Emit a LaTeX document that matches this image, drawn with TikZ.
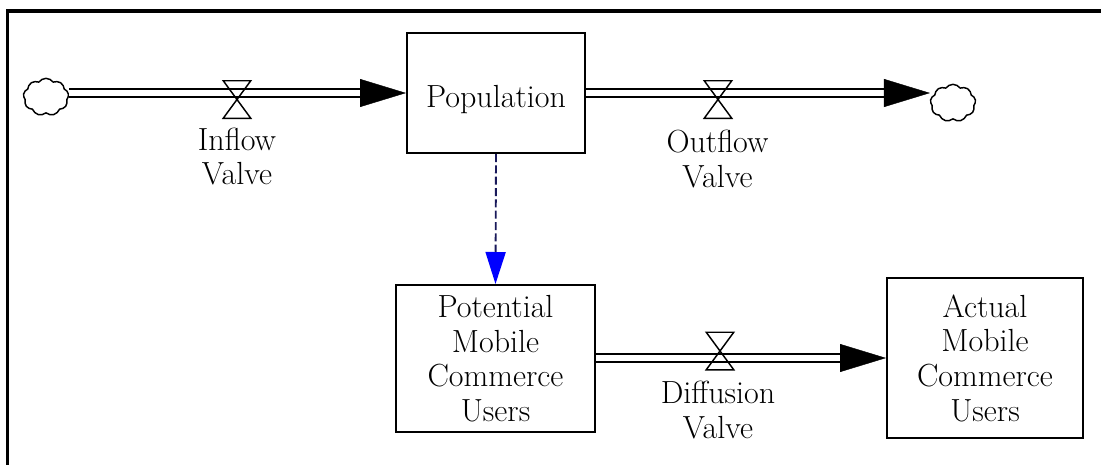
\documentclass[tikz,border=0pt]{standalone}
\usetikzlibrary{arrows.meta,shapes.symbols}
\definecolor{linkblue}{RGB}{0,0,255}
\definecolor{linkdash}{RGB}{25,25,90}
\begin{document}
\begin{tikzpicture}[x=0.75pt,y=-0.75pt,
  lbl/.style={font=\rmfamily\fontsize{24}{26}\selectfont, align=center, inner sep=0pt},
  stock/.style={lbl, draw, line width=1.5pt},
  pipe/.style={draw=black, line width=1.7pt, double=white, double distance=4.3pt, shorten >=30pt},
  flowhead/.style={draw=white, line width=0.3pt, -{Triangle[length=34.5pt,width=21pt,color=black]}},
  valve/.style={minimum width=20.25pt, minimum height=27.75pt, inner sep=0pt},
  hourglass/.style={draw, line width=1.1pt, line join=miter},
  source/.style={cloud, cloud puffs=9, cloud puff arc=110, aspect=1.2, draw, line width=1.1pt,
                 minimum width=34pt, minimum height=28pt, inner sep=0pt},
  link/.style={draw=linkdash, line width=1.4pt, dash pattern=on 6pt off 2.5pt,
               -{Triangle[length=24pt,width=15pt,color=linkblue]}}
]
\useasboundingbox (0,0) rectangle (1101,465);

% open frame
\draw[line width=2.6pt, line join=miter] (1101,11) -- (7.5,11) -- (7.5,465);

% stocks
\node[stock, minimum width=133.5pt, minimum height=90pt] (pop) at (496,93)
  {\raisebox{-5pt}[\height][\depth]{Population}};
\node[stock, minimum width=149.25pt, minimum height=110.25pt] (pot) at (495.5,358.5)
  {Potential\\Mobile\\Commerce\\Users};
\node[stock, minimum width=147pt, minimum height=120pt] (act) at (985,358)
  {Actual\\Mobile\\Commerce\\Users};

% sources and sinks
\node[source] (src) at (46,97) {};
\node[source] (snk) at (953,103) {};

% flow pipes
\draw[pipe] (src.east |- pop.west) -- (pop.west);
\draw[flowhead] (src.east |- pop.west) -- (pop.west);
\draw[pipe] (pop.east) -- (snk.west |- pop.east);
\draw[flowhead] (pop.east) -- (snk.west |- pop.east);
\draw[pipe] (pot.east |- act.west) -- (act.west);
\draw[flowhead] (pot.east |- act.west) -- (act.west);

% valves
\node[valve] (vin) at (237,99.5) {};
\node[valve] (vout) at (718,99.5) {};
\node[valve] (vdif) at (720,351) {};
\foreach \v in {vin,vout,vdif}
  \draw[hourglass] (\v.north west) -- (\v.north east) -- (\v.south west) -- (\v.south east) -- cycle;

% valve labels
\node[lbl] (lin) at (237,156.5) {Inflow\\Valve};
\node[lbl] (lout) at (717.5,159) {Outflow\\Valve};
\node[lbl] (ldif) at (718,410) {Diffusion\\Valve};

% information link
\draw[link] (pop.south) -- (pot.north);
\end{tikzpicture}
\end{document}
